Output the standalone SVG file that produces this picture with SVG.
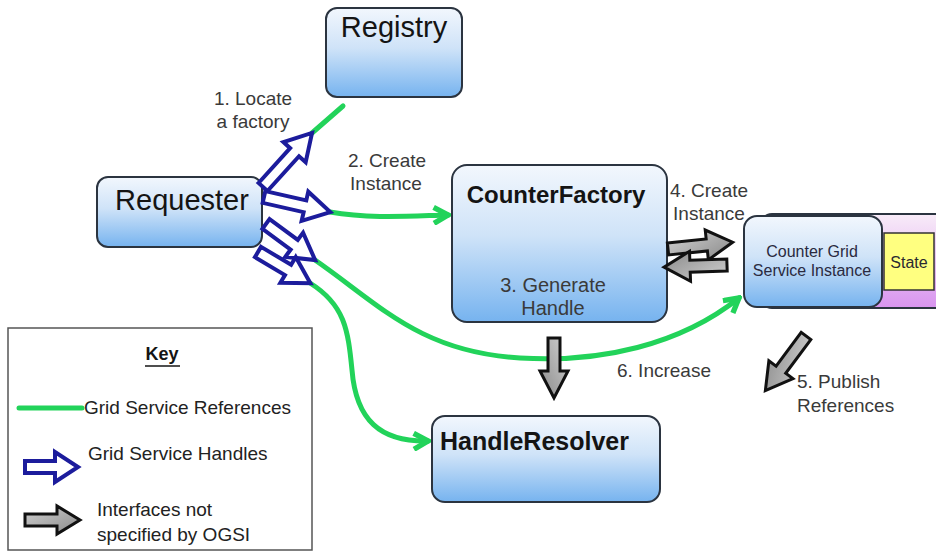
<svg xmlns="http://www.w3.org/2000/svg" width="936" height="553" viewBox="0 0 936 553">
  <defs>
    <linearGradient id="boxFill" x1="0" y1="0" x2="0" y2="1">
      <stop offset="0" stop-color="#f2f7fd"/>
      <stop offset="0.45" stop-color="#cfe3f8"/>
      <stop offset="1" stop-color="#76b3ef"/>
    </linearGradient>
    <linearGradient id="purpleFill" x1="0" y1="0" x2="0" y2="1">
      <stop offset="0" stop-color="#f8ecf8"/>
      <stop offset="1" stop-color="#d894ef"/>
    </linearGradient>
    <linearGradient id="grayFill" x1="0" y1="0" x2="1" y2="1">
      <stop offset="0" stop-color="#d0d0d0"/>
      <stop offset="1" stop-color="#8a8a8a"/>
    </linearGradient>
    <marker id="greenHead" viewBox="0 0 12 12" refX="10" refY="6" markerUnits="userSpaceOnUse" markerWidth="20" markerHeight="20" orient="auto">
      <path d="M1.5,1.2 L10,6 L1.5,10.8" fill="none" stroke="#22d35a" stroke-width="3.2" stroke-linejoin="miter"/>
    </marker>
  </defs>
  <style>
    .box { fill: url(#boxFill); stroke: #2b3440; stroke-width: 2; }
    .title { font-family: "Liberation Sans", Arial, sans-serif; fill: #141414; }
    .lbl { font-family: "Liberation Sans", Arial, sans-serif; font-size: 19px; fill: #3a3a3a; }
    .ref { fill: none; stroke: #22d35a; stroke-width: 5; stroke-linecap: round; }
    .handle { fill: #ffffff; stroke: #1c1c9c; stroke-width: 4; stroke-linejoin: miter; }
    .iface { fill: url(#grayFill); stroke: #111111; stroke-width: 3; stroke-linejoin: miter; }
  </style>

  <rect width="936" height="553" fill="#ffffff"/>

  <!-- Registry -->
  <g id="registry">
    <rect class="box" x="326" y="8" width="136" height="89" rx="11"/>
    <text class="title" x="394" y="37" font-size="29" text-anchor="middle">Registry</text>
  </g>

  <!-- Requester -->
  <g id="requester">
    <rect class="box" x="97" y="177" width="165" height="70" rx="11"/>
    <text class="title" x="182" y="210" font-size="29" text-anchor="middle">Requester</text>
  </g>

  <!-- CounterFactory -->
  <g id="counterfactory">
    <rect class="box" x="452" y="165" width="215" height="157" rx="15"/>
    <text class="title" x="556" y="203" font-size="24" font-weight="bold" text-anchor="middle">CounterFactory</text>
    <text class="lbl" x="553" y="292" text-anchor="middle" style="font-size:20px">3. Generate</text>
    <text class="lbl" x="553" y="315" text-anchor="middle" style="font-size:20px">Handle</text>
  </g>

  <!-- Counter grid service instance with its state -->
  <g id="counter-instance">
    <rect x="760" y="214" width="190" height="94" rx="12" fill="url(#purpleFill)" stroke="#2b3440" stroke-width="2"/>
    <rect x="884" y="233" width="50" height="57" fill="#ffff80" stroke="#333333" stroke-width="1.5"/>
    <text class="lbl" x="909" y="268" text-anchor="middle" style="font-size:16px;fill:#2a2a30">State</text>
    <rect class="box" x="744" y="216" width="138" height="91" rx="13"/>
    <text class="lbl" x="812" y="257" text-anchor="middle" style="font-size:16px;fill:#2a2a40">Counter Grid</text>
    <text class="lbl" x="812" y="276" text-anchor="middle" style="font-size:16px;fill:#2a2a40">Service Instance</text>
  </g>

  <!-- HandleResolver -->
  <g id="handleresolver">
    <rect class="box" x="432" y="416" width="228" height="86" rx="13"/>
    <text class="title" x="440" y="450" font-size="25" font-weight="bold">HandleResolver</text>
  </g>

  <!-- Connectors -->
  <g id="connectors">
    <!-- grid service references -->
    <path class="ref" d="M312,133 L343,106"/>
    <path class="ref" d="M330,212 C370,219 410,216 448,215" marker-end="url(#greenHead)"/>
    <path class="ref" d="M315,260 C380,305 420,352 520,358 C600,363 680,345 739,298" marker-end="url(#greenHead)"/>
    <path class="ref" d="M310,283 C345,305 348,330 352,370 C356,420 380,442 428,441" marker-end="url(#greenHead)"/>

    <!-- grid service handles -->
    <path class="handle" transform="translate(263,187) rotate(-47.8)" d="M0,-6 H47 V-15 L73,0 L47,15 V6 H0 Z"/>
    <path class="handle" transform="translate(264,197) rotate(12.8)" d="M0,-6 H42 V-15 L68,0 L42,15 V6 H0 Z"/>
    <path class="handle" transform="translate(266,224) rotate(36.3)" d="M0,-6 H35 V-15 L61,0 L35,15 V6 H0 Z"/>
    <path class="handle" transform="translate(258,252) rotate(30.8)" d="M0,-6 H35 V-15 L61,0 L35,15 V6 H0 Z"/>

    <!-- interfaces not specified by OGSI -->
    <path class="iface" transform="translate(668,249) rotate(-6)" d="M0,-6 H39 V-15 L65,0 L39,15 V6 H0 Z"/>
    <path class="iface" transform="translate(727,265) rotate(178)" d="M0,-6 H37 V-15 L63,0 L37,15 V6 H0 Z"/>
    <path class="iface" transform="translate(554,338) rotate(90)" d="M0,-6 H33 V-14 L60,0 L33,14 V6 H0 Z"/>
    <path class="iface" transform="translate(806,336) rotate(126.7)" d="M0,-6 H42 V-15 L68,0 L42,15 V6 H0 Z"/>
  </g>

  <!-- Step labels -->
  <g id="labels">
    <text class="lbl" x="253" y="105" text-anchor="middle">1. Locate</text>
    <text class="lbl" x="253" y="128" text-anchor="middle">a factory</text>
    <text class="lbl" x="387" y="167" text-anchor="middle">2. Create</text>
    <text class="lbl" x="386" y="190" text-anchor="middle">Instance</text>
    <text class="lbl" x="709" y="197" text-anchor="middle">4. Create</text>
    <text class="lbl" x="709" y="220" text-anchor="middle">Instance</text>
    <text class="lbl" x="617" y="377">6. Increase</text>
    <text class="lbl" x="797" y="388">5. Publish</text>
    <text class="lbl" x="797" y="412">References</text>
  </g>

  <!-- Key -->
  <g id="key">
    <rect x="8" y="328" width="304" height="222" fill="#ffffff" stroke="#555555" stroke-width="1.5"/>
    <text class="title" x="162" y="360" font-size="18" font-weight="bold" text-anchor="middle">Key</text>
    <line x1="145" y1="366" x2="180" y2="366" stroke="#141414" stroke-width="1.5"/>
    <line x1="19" y1="408" x2="82" y2="408" stroke="#22d35a" stroke-width="5" stroke-linecap="round"/>
    <text class="lbl" x="84" y="414" style="fill:#222">Grid Service References</text>
    <path class="handle" transform="translate(25,467)" d="M0,-6 H30 V-15 L53,0 L30,15 V6 H0 Z"/>
    <text class="lbl" x="88" y="460" style="fill:#222">Grid Service Handles</text>
    <path class="iface" transform="translate(25,520)" d="M0,-6 H32 V-14 L55,0 L32,14 V6 H0 Z"/>
    <text class="lbl" x="97" y="516" style="fill:#222">Interfaces not</text>
    <text class="lbl" x="97" y="541" style="fill:#222">specified by OGSI</text>
  </g>
</svg>
